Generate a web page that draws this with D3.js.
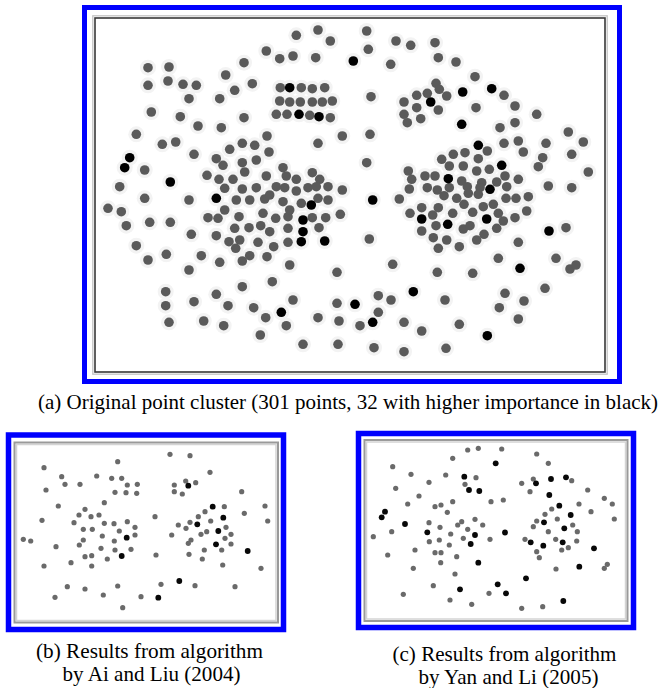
<!DOCTYPE html>
<html><head><meta charset="utf-8">
<script src="https://cdn.jsdelivr.net/npm/d3@7"></script>
<style>html,body{margin:0;padding:0;background:#fff;} svg{display:block;}</style>
</head><body>
<svg id="c" width="661" height="688"></svg>
<script>
// Points: [x, y, importance(1 = black)]
const ptsA = [
[318,30,0],[296.3,35.3,0],[330.3,41,0],[266.3,51,0],[279.7,58.7,0],[293,56,0],[315.7,57.7,0],[353.3,61,1],[148,67.7,0],[169,67,0],[244,62.7,0],[148,85.3,0],[168,81,0],[183,84.3,0],[196.3,85.3,0],[225.7,75,0],[234.7,90.3,0],[252.3,83.7,0],[189,98.7,0],[219.7,98.7,0],
[280.3,87.7,0],[289.7,87.7,1],[301.3,87.7,0],[312.3,88.7,0],[324.7,87.7,0],[279.7,101,0],[289.7,102,0],[300.3,102,0],[312.3,102,0],[322.3,102,0],[332.3,101,0],[276.3,114.3,0],[287,114.3,0],[299,114.3,1],[309.7,115.3,0],[319,116.7,1],[330.3,117.7,0],
[151.3,112,0],[180.3,116.7,0],[244,117.7,0],[198,126,0],[221.3,127.7,0],[136.3,134.3,0],[162.3,144.3,0],[175.7,142,0],[194,154.3,0],[229.7,149.3,0],[242.3,143.3,0],[254.7,145.3,0],[267,136,0],[269,152,0],[318,143.3,0],[342.3,136,0],[129.7,157.7,1],[124.7,167.7,1],[144.7,170,0],[170.3,182,1],[216.3,158.7,0],[223,165.3,0],[242.3,162.7,0],[256.3,160,0],[244.7,172,0],[207,175.3,0],[219,179.3,0],[233,179.3,0],[266.3,176,0],[283,167.7,0],[286.3,176,0],[296.3,179.3,0],[312.3,172.7,0],[319.7,179.3,0],
[119.7,186.7,0],[224.7,188.3,0],[242.3,189,0],[256.3,187.7,0],[276.3,186.7,0],[284.7,187.7,0],[296.3,191,0],[308,187.7,0],[316.3,186.7,0],[328,186.7,0],[342.3,190,0],
[144.7,198.3,0],[189,200,0],[216.3,198.3,1],[236.3,200,0],[249.7,200,0],[264.7,199,0],[269.7,195,0],[283,201.7,0],[301.3,203.3,0],[311.3,205,1],[318,198.3,0],[328,200,0],
[108,208.3,0],[121.3,211.7,0],[208,217.7,0],[218,218.3,0],[224.7,210,0],[239,216.7,0],[263,213.3,0],[275.7,218.3,0],[288,216.7,0],[289.7,210,0],[303,220,1],[312.3,217.7,0],[325.7,217.7,0],[340.3,214.3,0],
[126.3,225.7,0],[149.7,222.3,0],[170.3,222.3,0],[234.7,228.3,0],[249,227.7,0],[260.7,225.7,0],[269.7,231.7,0],[288,228.3,0],[303,231.7,1],[319,227.7,0],[191.3,234.3,0],[216.3,235.7,0],
[136.3,245.7,0],[229,241.7,0],[239.7,240,0],[235.7,248.3,0],[258,242.3,0],[273.7,246.7,0],[288,242.3,0],[301.3,241.7,1],[324.7,241,1],
[148,260,0],[166.3,254.3,0],[201.3,255.7,0],[219.7,262.3,0],[242.3,261,0],[249.7,255.7,0],[267,256.7,0],[289.7,265,0],
[189,270,0],[337,272.3,0],[272.3,281.7,0],[242.3,286.7,0],[165.7,291.7,0],[194,301.7,0],[216.3,294.3,0],[228,305.7,0],[253.7,307.7,0],[293,300,0],[337,303.3,0],[165.7,305.7,0],[281.3,312.3,1],[265.7,317.7,0],[318,317.7,0],[339,321,0],[169,322.3,0],[203.7,321,0],[223.7,325.7,0],[286.3,325.7,0],[260.3,335,0],[303,344.3,0],[338,344.3,0],
[366.7,31,0],[368.3,49.3,0],[396,41,0],[410.7,45.3,0],[435,42.7,0],[390.7,64.3,0],[438.3,57.7,0],[456,62,0],[475,76.7,0],[371,96.7,0],[436,83.3,0],[416.7,95.3,0],[427.3,93.3,0],[439.3,89.3,0],[446.7,96,0],[404,102,0],[430.7,102,1],[462.7,92,1],[491.7,88.7,1],[504,95.3,0],[404,114.3,0],[416.7,107.7,0],[420.7,118.7,0],[438.3,110,0],[407.3,122.7,0],[476,107.7,0],[515,106,0],[536.7,114.3,0],[461.7,124.3,1],[515,122.7,0],[500,127.7,0],[370,134.3,0],[568.3,132,0],[478.3,145.3,1],[487.3,151,0],[504,143.3,0],[518.3,141,0],[523.3,152,0],[546,143.3,0],[583.3,142,0],[571.7,154.3,0],[366.7,162.7,0],[441.7,159.3,0],[453.3,154.3,0],[465,152.7,0],[478.3,158.7,0],[542.7,157.7,0],[538.3,166.7,0],[588.3,172,0],[501.7,165.3,1],[449.3,166,0],[463.3,166,0],[476.7,171,0],[489.3,169.3,0],[408.3,171,0],[448.3,178.7,1],[425,176,0],[435,176,0],[411.7,179.3,0],[461.7,181,0],[481.7,182.7,0],[496.7,182,0],[505,176,0],[518.3,179.3,0],[490,189.3,1],[548.3,186,0],[571.7,187.7,0],
[409.3,189,0],[427.3,187.7,0],[437.3,190,0],[449.3,187.7,0],[467.3,186.7,0],[480,187.7,0],[506.7,186.7,0],
[372.7,200,1],[399.3,199,0],[444,195.7,0],[456.7,198.3,0],[468.3,193.3,0],[478.3,194.3,0],[506,198.3,0],[516,198.3,0],[528.3,196.7,0],
[421.7,207.7,0],[438.3,207.7,0],[464,204.3,0],[483.3,206.7,0],[493.3,204.3,0],
[410,213.3,0],[421.7,219,1],[432.7,215,0],[452.7,213.3,0],[472.7,212.3,0],[486.7,219,1],[498.3,213.3,0],[515,217.7,0],[526.7,211,0],
[436,225.7,0],[447.7,224.3,1],[463.3,229,0],[470,225.7,0],[496.7,228.3,0],[503.3,221,0],[421.7,231,0],[433.3,237.7,0],[446.7,240,0],[476.7,240,0],[484,234.3,0],[549,231,1],[566,227.7,0],[369.3,239,0],[438.3,248.3,0],[459.3,246.7,0],[518.3,242.3,0],[498.3,258.3,0],[556,258.3,0],[392.7,264.3,0],[437.3,272.3,0],[472.7,273.3,0],[520,268.3,1],[570,269,0],[576,265,0],
[413.3,291.7,1],[378.3,295.7,0],[391,300,0],[445,300,0],[505,293.3,0],[524,301,0],[545,288.3,0],[355,304.3,1],[378.3,312.3,0],[360,325.7,0],[372.7,322.3,1],[404,322.3,0],[421.7,331,0],[459.3,324.3,0],[499.3,307.7,0],[518.3,319,0],[487.3,335.7,1],[374,347.7,0],[404,351.7,0],[446,348.3,0]
];
const ptsB = [
[117.7,461.7,0],[44,467.7,0],[61.7,476.7,0],[96.7,476,0],[111.7,478.3,0],[121.7,478.3,0],[65,484.3,0],[80,484.3,0],[127.3,485,0],[137.3,484.3,0],[46,490,0],[115,492.3,0],[126,492.7,0],[136.7,493.3,0],[104.3,502.7,0],[58.3,506,0],[85,509.3,0],[79,515,0],[91,516.7,0],[99,515,0],[42,520.3,0],[74,522.7,0],[104.3,523.3,0],[114,523.7,0],[127.3,521.7,0],[135,527.3,0],[83.3,529.3,0],[92.3,529.3,0],[119.3,531,0],[102.3,536,0],[135,535,0],[126.7,537.7,1],[23.3,539.3,0],[30.7,541,0],[83.3,540,0],[114.3,541,0],[79.3,545,0],[56,546.7,0],[101,548.3,0],[115,550,0],[131,549.3,0],[121.7,556,1],[85,556.7,0],[91.7,555.7,0],[107.3,559,0],[71,562.7,0],[44,566,0],[91.7,566,0],[67.3,586.7,0],[85,589,0],[117.7,586,0],[55,597.3,0],[103.3,595,0],[141,596.7,0],[122.7,607.7,0],
[170,454.3,0],[190,455.7,0],[210,472.3,0],[174.3,485,0],[185.7,481,0],[188.3,485.7,1],[195.7,482.7,0],[174.3,491.7,0],[182.3,494,0],[241.7,491.7,0],[212.7,506.7,1],[224.3,506.7,0],[265,506,0],[205,511.7,0],[198.3,516.7,0],[244.3,513.3,0],[223.3,517.7,1],[155,516.7,0],[267.7,521,0],[178.3,525,0],[190,522.3,0],[197.3,524.3,1],[210.7,521,0],[186,528.3,0],[226,527.3,0],[171.7,535,0],[201,534.3,0],[206.7,531.7,0],[218.3,531,1],[231,534.3,0],[191,540,0],[188.3,543.3,0],[225,538.3,0],[216,544.3,1],[231,544,0],[204.3,550,0],[221.7,550,0],[247.7,551,1],[156,555,0],[189,554.3,0],[202.3,559,0],[222.7,565,0],[261,568.3,0],[179.3,581,1],[161,584.3,0],[195,585.7,0],[235,586.7,0],[158.3,597.7,1]
];
const ptsC = [
[467.7,450,0],[478.3,448.3,0],[501.7,449,0],[452.7,458.3,0],[495.7,463.3,1],[392.7,466.7,0],[411,474.3,0],[445.7,475,0],[464.3,476.7,1],[476,477.7,0],[429,482.3,0],[465,484.3,0],[469,490,1],[479.3,491,1],[395.7,488.3,0],[419,496,0],[452.7,501.7,0],[491,501.7,0],[503.3,500,0],[407.7,504,0],[435,506.7,0],[441,505,0],[447.3,512.3,0],[385,511.7,1],[381.7,517.3,1],[405,524,1],[429,522.7,0],[457.7,525,0],[461.7,521.7,0],[475,519.3,0],[482.7,525,0],[467.7,529.3,0],[440,527.3,0],[391.7,531.7,0],[427.3,532.3,1],[450.7,534,0],[475,535,1],[505,532.5,1],[373.3,536.7,0],[463.3,538.3,0],[490,539.3,0],[429.3,541.7,0],[439.3,540,0],[470.7,544,1],[449.3,545,0],[415,550,0],[435,552.7,0],[441,552.7,0],[387.7,555,0],[456.7,556.7,0],[440.7,562.7,0],[478.3,562.7,1],[413.3,568.3,0],[455,574,0],[433.3,585.7,0],[460,589.3,1],[497.7,584.3,1],[403.3,594.3,0],[489,593.3,0],[506,593.3,1],[450,600,0],[471.7,604.3,0],
[536.7,454,0],[548.3,463.3,0],[521.7,483.3,0],[533.3,479,0],[536,483.3,1],[551,479,1],[566,477.3,1],[571.7,480.7,0],[530,491.7,0],[549.3,495,1],[587.7,490,0],[559.3,505.7,1],[551.7,509,0],[579,504,0],[604.3,498.3,0],[612.3,504,0],[545,514.3,0],[570.7,515,1],[591,511.7,0],[614.3,519,0],[536.7,521,0],[544,522.3,1],[557.3,519,0],[533.3,526.7,0],[572.7,525,0],[564.3,528.3,1],[548.3,531.7,0],[577.3,531.7,0],[525,539.3,0],[530.7,542.3,1],[555.7,539.3,0],[562.7,542.3,1],[576.7,541,0],[543.3,545.7,1],[568.3,547.7,0],[561.7,550,0],[536.7,551.7,0],[594,548.3,1],[539.3,557.7,0],[579.3,566.7,1],[556,569,0],[607.3,564.3,0],[604.3,568.3,0],[526,578.3,1],[563.3,601,1],[521.7,608.3,0],[542.7,606.7,0]
];
const captionA = ["(a) Original point cluster (301 points, 32 with higher importance in black)"];
const captionB = ["(b) Results from algorithm", "by Ai and Liu (2004)"];
const captionC = ["(c) Results from algorithm", "by Yan and Li (2005)"];

const svg = d3.select("#c");
const BLUE = "#0000fe";

function panel(cfg){
  const g = svg.append("g");
  const [bx0,by0,bx1,by1] = cfg.blue;
  g.append("rect").attr("x",bx0).attr("y",by0).attr("width",bx1-bx0).attr("height",by1-by0)
    .attr("fill","#fff").attr("stroke",BLUE).attr("stroke-width",cfg.bw);
  const [fx0,fy0,fx1,fy1] = cfg.frame;
  g.append("rect").attr("x",fx0-cfg.off).attr("y",fy0-cfg.off).attr("width",fx1-fx0+2*cfg.off).attr("height",fy1-fy0+2*cfg.off)
    .attr("fill","none").attr("stroke",cfg.outerCol).attr("stroke-width",cfg.outerW);
  g.append("rect").attr("x",fx0).attr("y",fy0).attr("width",fx1-fx0).attr("height",fy1-fy0)
    .attr("fill","none").attr("stroke",cfg.frameCol).attr("stroke-width",cfg.frameW);
  const x = d3.scaleLinear().domain([fx0,fx1]).range([fx0,fx1]);
  const y = d3.scaleLinear().domain([fy0,fy1]).range([fy0,fy1]);
  if(cfg.halo){
    g.append("g").selectAll("circle").data(cfg.pts).join("circle")
      .attr("cx",d=>x(d[0])).attr("cy",d=>y(d[1])).attr("r",cfg.halo).attr("fill","#f3f3f3");
  }
  const sorted = cfg.pts.slice().sort((a,b)=>a[2]-b[2]);
  g.append("g").selectAll("circle").data(sorted).join("circle")
    .attr("cx",d=>x(d[0])).attr("cy",d=>y(d[1]))
    .attr("r",d=>d[2]?cfg.rb:cfg.r)
    .attr("fill",d=>d[2]?cfg.black:cfg.gray);
}

panel({pts:ptsA, blue:[84.5,7.5,619.5,381.5], bw:5, frame:[95,18,605,372], off:2.2,
  outerCol:"#c4c4c4", outerW:1.3, frameCol:"#383838", frameW:1.6,
  r:4.8, rb:4.8, gray:"#5a5a5a", black:"#000", halo:8});
panel({pts:ptsB, blue:[8.5,435,283.5,629.5], bw:5.5, frame:[14.5,442.5,278,622.5], off:-2,
  outerCol:"#d4d4d4", outerW:1.5, frameCol:"#9a9a9a", frameW:2,
  r:2.6, rb:2.9, gray:"#6a6a6a", black:"#080808", halo:0});
panel({pts:ptsC, blue:[358.5,433.5,633.5,627.5], bw:5.5, frame:[364.5,440,627.5,621], off:-2,
  outerCol:"#d4d4d4", outerW:1.5, frameCol:"#9a9a9a", frameW:2,
  r:2.6, rb:2.9, gray:"#6a6a6a", black:"#080808", halo:0});

function caption(lines, cx, baselines, widths){
  lines.forEach((t,i)=>{
    svg.append("text").attr("x",cx[i]).attr("y",baselines[i])
      .attr("text-anchor","middle")
      .attr("font-family","'Liberation Serif','Times New Roman',serif")
      .attr("font-size",21).attr("fill","#000")
      .attr("textLength",widths[i]).attr("lengthAdjust","spacingAndGlyphs")
      .text(t);
  });
}
caption(captionA,[348],[408.5],[620]);
caption(captionB,[149.5,151.5],[658,681],[227,178]);
caption(captionC,[504.5,508.5],[661,683.5],[224,180]);
</script>
</body></html>
